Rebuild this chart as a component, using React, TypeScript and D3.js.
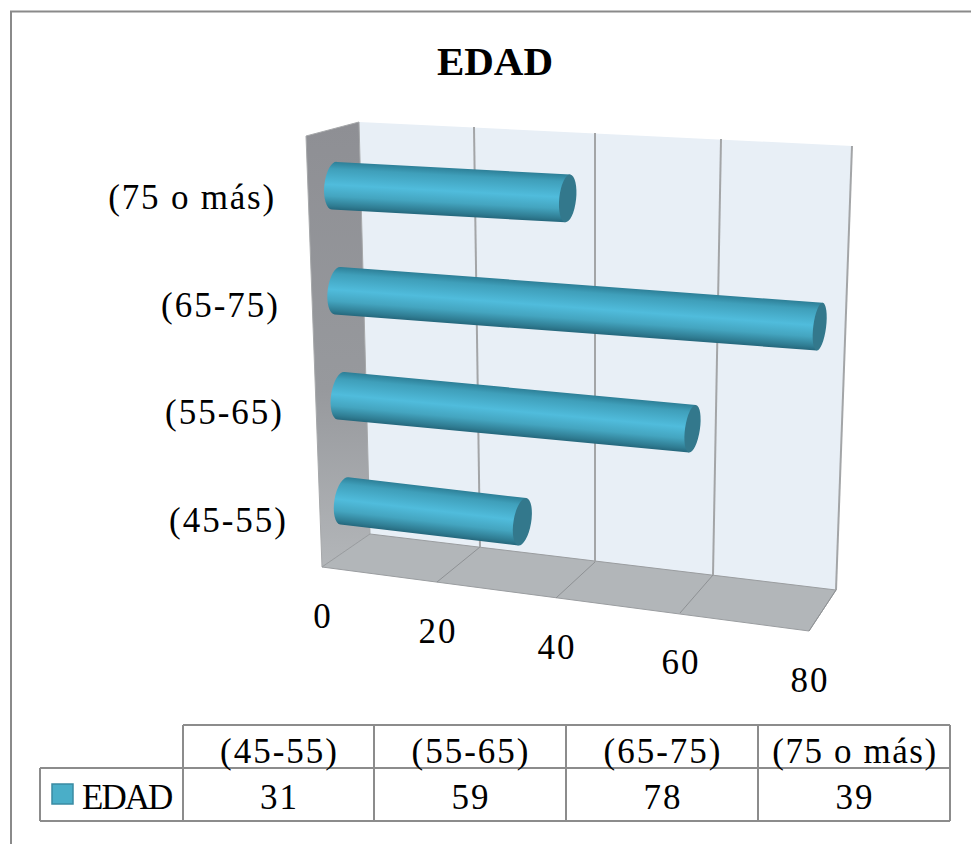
import React from 'react';
import * as d3 from 'd3';

const categories = ['(45-55)', '(55-65)', '(65-75)', '(75 o más)'];
const seriesName = 'EDAD';
const values = [31, 59, 78, 39];
const ticks = [0, 20, 40, 60, 80];

// the chart is a 3D box, so each edge of it gets its own scale along the value axis
const edge = (xs: number[], ys: number[]) => ({
  x: d3.scaleLinear().domain(ticks).range(xs),
  y: d3.scaleLinear().domain(ticks).range(ys),
});
const backTop = edge([359, 474, 595, 721, 852], [122, 127, 133, 139, 146]);
const backBottom = edge([370, 480, 595, 713, 836], [534, 547, 562, 575, 590]);
const frontTop = edge([306, 429, 552, 684, 827], [136, 141, 146, 151, 157]);
const frontBottom = edge([322, 437, 556, 680, 809], [567, 582, 598, 613, 631]);

// bars sit a little below the middle of their band
const barHeight = d3.scaleBand().domain(categories).range([-0.007, 0.99]);
const labelHeight = d3.scaleBand().domain(categories).range([0, 1]);
const capWidth = d3.scaleLinear().domain([520, 820]).range([8.8, 6.4]).clamp(true);
const lerp = d3.interpolateNumber;

// depth: 0 = front, 1 = back. h: 0 = floor, 1 = top
const project = (v: number, depth: number, h: number): [number, number] => {
  const fx = lerp(frontBottom.x(v), frontTop.x(v))(h);
  const fy = lerp(frontBottom.y(v), frontTop.y(v))(h);
  const bx = lerp(backBottom.x(v), backTop.x(v))(h);
  const by = lerp(backBottom.y(v), backTop.y(v))(h);
  return [lerp(fx, bx)(depth), lerp(fy, by)(depth)];
};

const line = d3.line();
const poly = (pts: [number, number][]) => line(pts) + 'Z';

const FONT = '"Liberation Serif", serif';
const GRID = '#a3a5a7';

const Bar = ({ cat, value, i }: { cat: string; value: number; i: number }) => {
  const h = barHeight(cat)! + barHeight.bandwidth() / 2;
  const [x0, y0] = project(0, 0.5, h);
  const [x1, y1] = project(value, 0.5, h);
  const r = 24;
  const barAngle = Math.atan2(y1 - y0, x1 - x0);
  // end caps lean slightly more than the bar itself
  const angle = barAngle + (3 * Math.PI) / 180;
  const deg = (angle * 180) / Math.PI;
  const nx = -Math.sin(angle) * r;
  const ny = Math.cos(angle) * r;
  const d =
    `M${x0 - nx},${y0 - ny}L${x1 - nx},${y1 - ny}L${x1 + nx},${y1 + ny}L${x0 + nx},${y0 + ny}` +
    `A${r},10 ${deg + 90} 0 1 ${x0 - nx},${y0 - ny}Z`;
  // shading runs straight across the bar, not along the leaning caps
  const gx = -Math.sin(barAngle) * r;
  const gy = Math.cos(barAngle) * r;
  const id = `cyl${i}`;
  return (
    <g>
      <defs>
        <linearGradient id={id} gradientUnits="userSpaceOnUse" x1={x0 - gx} y1={y0 - gy} x2={x0 + gx} y2={y0 + gy}>
          <stop offset="0" stopColor="#2d7f97" />
          <stop offset="0.15" stopColor="#3f9fba" />
          <stop offset="0.48" stopColor="#50bcdc" />
          <stop offset="0.72" stopColor="#44a5c0" />
          <stop offset="0.92" stopColor="#2f7c92" />
          <stop offset="1" stopColor="#25677c" />
        </linearGradient>
      </defs>
      <path d={d} fill={`url(#${id})`} />
      <ellipse
        cx={x1}
        cy={y1}
        rx={r}
        ry={capWidth(x1)}
        transform={`rotate(${deg + 90} ${x1} ${y1})`}
        fill="#33788c"
      />
    </g>
  );
};

export default function App() {
  const wallBack = poly([project(0, 1, 0), project(0, 1, 1), project(80, 1, 1), project(80, 1, 0)]);
  const wallSide = poly([project(0, 0, 0), project(0, 0, 1), project(0, 1, 1), project(0, 1, 0)]);
  const floor = poly([project(0, 0, 0), project(0, 1, 0), project(80, 1, 0), project(80, 0, 0)]);

  const columns = [183, 374, 566, 758, 950];
  const rows = [725, 768, 821];

  return (
    <svg
      width={971}
      height={844}
      style={{ position: 'absolute', left: 0, top: 0, display: 'block' }}
      fontFamily={FONT}
    >
      <defs>
        <linearGradient id="sideFill" x1="0" y1="0" x2="0" y2="1">
          <stop offset="0" stopColor="#8e8f94" />
          <stop offset="0.6" stopColor="#97999d" />
          <stop offset="1" stopColor="#b3b6b9" />
        </linearGradient>
      </defs>
      <rect width={971} height={844} fill="#fff" />
      {/* outer frame */}
      <path d="M11,844V11.5H971" fill="none" stroke="#8a8a8a" strokeWidth={2} />

      <text x={495} y={75} textAnchor="middle" fontSize={41} fontWeight="bold" fill="#000">
        {seriesName}
      </text>

      {/* walls */}
      <path d={wallBack} fill="#e8eff6" />
      <path d={wallSide} fill="url(#sideFill)" stroke="#a6a8aa" strokeWidth={1} />
      <path d={floor} fill="#b2b6b9" stroke="#9a9da0" strokeWidth={1} />

      {ticks.map((t) => (
        <g key={t}>
          {t > 0 && (
            <path d={line([project(t, 1, 1), project(t, 1, 0)])!} stroke={GRID} strokeWidth={2} fill="none" />
          )}
          {t > 0 && (
            <path d={line([project(t, 1, 0), project(t, 0, 0)])!} stroke="#8e9194" strokeWidth={1} fill="none" />
          )}
          <text
            x={project(t, 0, 0)[0] + 1}
            y={project(t, 0, 0)[1] + 61}
            textAnchor="middle"
            fontSize={35}
            letterSpacing={2}
          >
            {t}
          </text>
        </g>
      ))}

      {categories.map((cat) => {
        const h = labelHeight(cat)! + labelHeight.bandwidth() / 2;
        const [x, y] = project(0, 0, h);
        return (
          <text key={cat} x={x - 32} y={y + 19} textAnchor="end" fontSize={35} letterSpacing={cat.length > 8 ? 1.8 : 2}>
            {cat}
          </text>
        );
      })}

      {categories.map((cat, i) => (
        <Bar key={cat} cat={cat} value={values[i]} i={i} />
      ))}

      {/* data table */}
      <g stroke="#8c8c8c" strokeWidth={2} fill="none">
        <path d={`M${columns[0]},${rows[0]}H${columns[4]}`} />
        <path d={`M40,${rows[1]}H${columns[4]}`} />
        <path d={`M40,${rows[2]}H${columns[4]}`} />
        <path d={`M40,${rows[1]}V${rows[2]}`} />
        {columns.map((c) => (
          <path key={c} d={`M${c},${rows[0]}V${rows[2]}`} />
        ))}
      </g>
      <rect x={52} y={784} width={21} height={20} fill="#4aaec8" stroke="#3a8ba3" strokeWidth={1.5} />
      <text x={82} y={809} fontSize={35} letterSpacing={-2}>
        {seriesName}
      </text>
      {categories.map((cat, i) => {
        const cx = (columns[i] + columns[i + 1]) / 2;
        return (
          <g key={cat}>
            <text x={cx + 1} y={763} textAnchor="middle" fontSize={35} letterSpacing={cat.length > 8 ? 1.6 : 2}>
              {cat}
            </text>
            <text x={cx + 1} y={809} textAnchor="middle" fontSize={35} letterSpacing={2}>
              {values[i]}
            </text>
          </g>
        );
      })}
    </svg>
  );
}
